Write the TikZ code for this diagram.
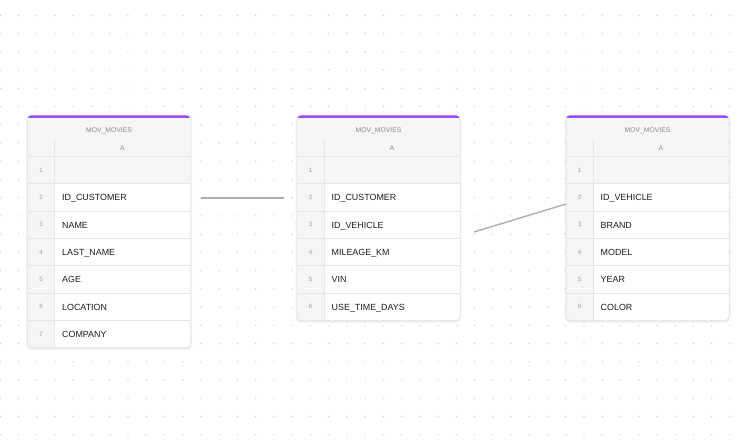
\documentclass[tikz,border=0pt]{standalone}
\usepackage{fontspec}
\setmainfont{Liberation Sans}
\definecolor{purp}{RGB}{155,75,250}
\definecolor{hdr}{RGB}{245,245,245}
\definecolor{gline}{RGB}{230,230,230}
\definecolor{dotc}{RGB}{205,205,205}
\definecolor{numc}{RGB}{160,160,160}
\definecolor{ttlc}{RGB}{140,140,140}
\definecolor{txt}{RGB}{30,30,30}
\definecolor{conn}{RGB}{175,175,175}
\tikzset{
  celltext/.style={anchor=base west,inner sep=0pt,text=txt,font=\fontsize{8.9}{10}\selectfont},
  numtext/.style={anchor=base,inner sep=0pt,text=numc,font=\fontsize{6.2}{7}\selectfont},
  titletext/.style={anchor=base,inner sep=0pt,text=ttlc,font=\fontsize{6.8}{7}\selectfont},
  connector/.style={draw=conn,line width=1.4pt},
}
\newcommand\mytable[4]{%
  % #1 name, #2 left x, #3 number of rows, #4 entries of rows 2..n
  \pgfmathsetmacro\tb{41.5+27.3*#3}
  \begin{scope}[shift={(#2,115)}]
    \fill[black,opacity=0.04,rounded corners=5pt] (-1.5,-0.5) rectangle (164.5,\tb+2.5);
    \fill[black,opacity=0.05,rounded corners=4.5pt] (-0.7,0) rectangle (163.7,\tb+1.3);
    \fill[white,rounded corners=4pt] (0,0) rectangle (163,\tb);
    \begin{scope}
      \clip[rounded corners=4pt] (0,0) rectangle (163,\tb);
      \fill[hdr] (0,0) rectangle (163,68.8);
      \fill[hdr] (0,0) rectangle (27,\tb);
      \fill[purp] (0,0) rectangle (163,3);
      \foreach \k in {1,...,#3}{
        \draw[gline,line width=0.8pt] (0,{41.5+27.3*(\k-1)}) -- (163,{41.5+27.3*(\k-1)});
      }
      \draw[gline,line width=0.8pt] (27,24) -- (27,\tb);
    \end{scope}
    \draw[gline,line width=0.5pt,rounded corners=4pt] (0,0) rectangle (163,\tb);
    \node[titletext] (#1-title) at (81.5,17.4) {MOV\_MOVIES};
    \node[titletext] (#1-colA) at (95,35) {A};
    \node[numtext] (#1-n1) at (13.5,{41.5+27.3*0.5+2.2}) {1};
    \foreach \t [count=\k from 2] in {#4}{
      \node[numtext] (#1-n\k) at (13.5,{41.5+27.3*(\k-0.5)+2.2}) {\k};
      \node[celltext] (#1-r\k) at (34.5,{41.5+27.3*(\k-0.5)+3.4}) {\t};
    }
  \end{scope}
}
\begin{document}
\begin{tikzpicture}[x=1pt,y=-1pt]
  \fill[white] (0,0) rectangle (747,445);
  \useasboundingbox (0,0) rectangle (747,445);
  \foreach \i in {0,...,40}{
    \foreach \j in {0,...,23}{
      \fill[dotc] ({0.3+18.24*\i},{15.3+18.24*\j}) circle[radius=0.7pt];
    }
  }
  \coordinate (c1a) at (201,198);
  \coordinate (c1b) at (284,198);
  \coordinate (c2a) at (474,232);
  \coordinate (c2b) at (566,204);
  \mytable{tA}{27.5}{7}{ID\_CUSTOMER,NAME,LAST\_NAME,AGE,LOCATION,COMPANY}
  \mytable{tB}{297}{6}{ID\_CUSTOMER,ID\_VEHICLE,MILEAGE\_KM,VIN,USE\_TIME\_DAYS}
  \mytable{tC}{566}{6}{ID\_VEHICLE,BRAND,MODEL,YEAR,COLOR}
  \draw[connector] (c1a) -- (c1b);
  \draw[connector] (c2a) -- (c2b);
\end{tikzpicture}
\end{document}
